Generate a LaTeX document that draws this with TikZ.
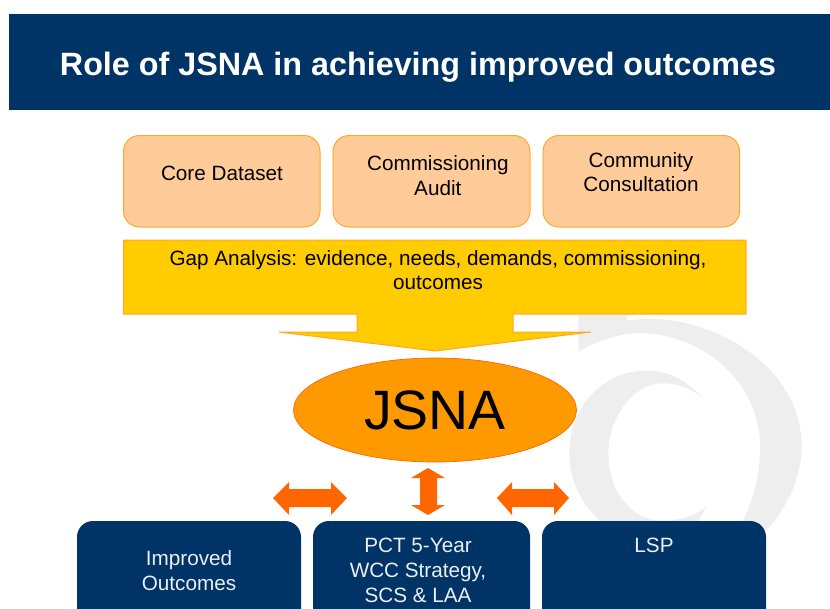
\documentclass[tikz,border=0pt]{standalone}
\usepackage{fontspec}
\setmainfont{Liberation Sans}
\usetikzlibrary{shapes.geometric}
\definecolor{navy}{HTML}{003366}
\definecolor{peach}{HTML}{FFCC99}
\definecolor{peachline}{HTML}{FFA826}
\definecolor{gold}{HTML}{FFCC00}
\definecolor{jsnafill}{HTML}{FF9900}
\definecolor{jsnaline}{HTML}{FF6600}
\definecolor{arrowcol}{HTML}{FF6600}
\definecolor{wm}{HTML}{EEEEEE}
\tikzset{
  inputbox/.style={draw=peachline,fill=peach,line width=1pt,rounded corners=16pt},
  outbox/.style={fill=navy,rounded corners=16pt},
  lbl/.style={align=center,font=\fontsize{20.7}{24.5}\selectfont,inner sep=0pt},
  wlbl/.style={align=center,font=\fontsize{20.7}{25}\selectfont,inner sep=0pt,text=white!92!navy},
  dblarrow/.style={fill=arrowcol,draw=none},
  wmark/.style={fill=wm,draw=none}
}
\begin{document}
\begin{tikzpicture}[x=1pt,y=-1pt]
\useasboundingbox (0,0) rectangle (830,608);
\clip (0,0) rectangle (830,608);
% watermark
\begin{scope}[shift={(500,280)},x=0.3333pt,y=-0.3333pt]
\path[wmark] (235,105) -- (380,105) -- (380,122)
  .. controls (600,85) and (905,240) .. (905,500)
  .. controls (905,590) and (860,690) .. (790,760)
  -- (725,730)
  .. controls (765,650) and (780,580) .. (780,500)
  .. controls (780,300) and (600,160) .. (420,160)
  .. controls (350,160) and (285,185) .. (235,215) -- cycle;
\path[wmark] (605,350)
  .. controls (560,300) and (500,272) .. (440,272)
  .. controls (300,272) and (208,390) .. (208,520)
  .. controls (208,610) and (250,680) .. (310,730)
  -- (590,730) -- (620,680)
  .. controls (590,705) and (540,722) .. (490,722)
  .. controls (390,722) and (325,630) .. (325,520)
  .. controls (325,410) and (400,310) .. (490,310)
  .. controls (530,310) and (570,325) .. (605,350) -- cycle;
\end{scope}
% title
\path[fill=navy] (9,14) rectangle (830,110);
\node[text=white,font=\fontsize{32.3}{38}\selectfont\bfseries,inner sep=0pt] (title) at (418,67.5) {Role of JSNA in achieving improved outcomes};
% input boxes
\path[inputbox] (123.5,135.5) rectangle (320,227);
\path[inputbox] (333,135.5) rectangle (530,227);
\path[inputbox] (543,135.5) rectangle (739.5,227);
\node[lbl] (core) at (222,173.5) {Core Dataset};
\node[lbl] (audit) at (437.8,175.7) {Commissioning\\Audit};
\node[lbl] (consult) at (641,172) {Community\\Consultation};
% gap callout
\path[fill=gold,draw=peachline,line width=1pt,line join=miter]
  (123.5,240) -- (746,240) -- (746,314) -- (513,314) -- (513,332) -- (591,332)
  -- (435,351) -- (279,332) -- (357,332) -- (357,314) -- (123.5,314) -- cycle;
\node[lbl] (gap) at (438,270) {Gap Analysis: evidence, needs, demands, commissioning,\\outcomes};
% JSNA
\node[ellipse,draw=jsnaline,fill=jsnafill,line width=0.7pt,minimum width=283pt,minimum height=104pt,inner sep=0pt,font=\fontsize{55.5}{60}\selectfont] (jsna) at (435,410) {JSNA};
% arrows
\path[dblarrow] (273,498) -- (289,482) -- (289,489) -- (331,489) -- (331,482) -- (347,498) -- (331,515) -- (331,507) -- (289,507) -- (289,515) -- cycle;
\path[dblarrow] (497,498) -- (512,482) -- (512,489) -- (554,489) -- (554,482) -- (569,498) -- (554,515) -- (554,507) -- (512,507) -- (512,515) -- cycle;
\path[dblarrow] (428,468) -- (445,478) -- (437,478) -- (437,505) -- (445,505) -- (428,515) -- (411,505) -- (420,505) -- (420,478) -- (411,478) -- cycle;
% outcome boxes
\path[outbox] (77,521) rectangle (301,650);
\path[outbox] (313,521) rectangle (530,650);
\path[outbox] (542,521) rectangle (766,650);
\node[wlbl] (impr) at (189,570.5) {Improved\\Outcomes};
\node[wlbl] (pct) at (418,570) {PCT 5-Year\\WCC Strategy,\\SCS \& LAA};
\node[wlbl] (lsp) at (654,545) {LSP};
\end{tikzpicture}
\end{document}
